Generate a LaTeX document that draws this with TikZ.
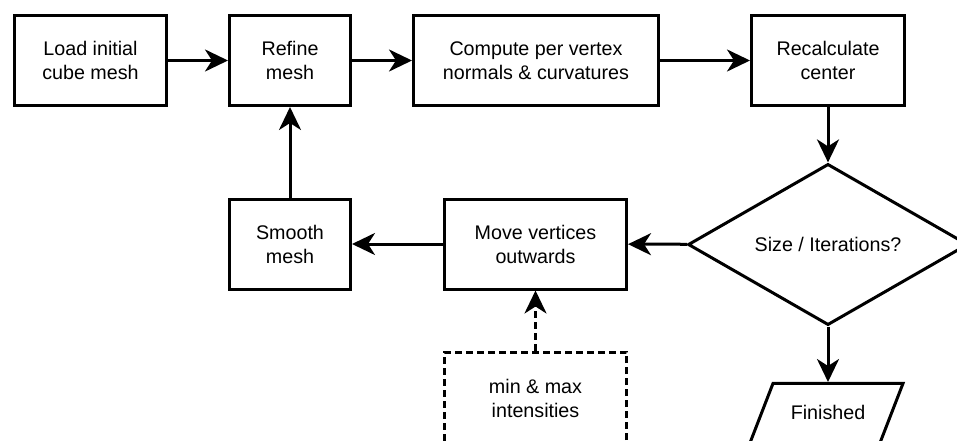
\documentclass[tikz,border=0pt]{standalone}
\usepackage{fontspec}
\setmainfont{Liberation Sans}
\usetikzlibrary{arrows.meta,shapes.geometric}
\begin{document}
\begin{tikzpicture}[x=1pt,y=-1pt,
  every node/.style={font=\fontsize{19.7}{24}\selectfont, align=center, inner sep=0pt},
  stepbox/.style={draw, line width=3pt, minimum height=90pt},
  inputbox/.style={stepbox, dash pattern=on 7pt off 4pt},
  decision/.style={draw, diamond, line width=3pt, minimum width=280pt, minimum height=155pt},
  flow/.style={line width=3pt, -{Stealth[length=23pt,width=22pt,inset=7pt]}},
  feed/.style={flow, dash pattern=on 7pt off 4pt},
]
\useasboundingbox (0,0) rectangle (957,441);
\clip (0,0) rectangle (957,441);

% top row
\node[stepbox, minimum width=152pt] (load)    at (90.5,60.5) {Load initial\\cube mesh};
\node[stepbox, minimum width=121pt] (refine)  at (290,60.5)  {Refine\\mesh};
\node[stepbox, minimum width=245pt] (compute) at (536,60.5)  {Compute per vertex\\normals \& curvatures};
\node[stepbox, minimum width=153pt] (recalc)  at (828,60.5)  {Recalculate\\center};

% middle row
\node[stepbox, minimum width=121pt] (smooth) at (290,244)   {Smooth\\mesh};
\node[stepbox, minimum width=182pt] (move)   at (535.5,244) {Move vertices\\outwards};
\node[decision] (check) at (828,244.5) {Size / Iterations?};

% bottom row (runs past the lower edge)
\node[inputbox, minimum width=182pt, minimum height=93pt] (limits) at (535.5,398.5) {min \& max\\intensities};
\node (done) at (828,412) {Finished};
\draw[line width=3pt, line join=miter] (773,383.4) -- (903,383.4) -- (878,448) -- (748,448) -- cycle;
\coordinate (donetop) at (828,382);

% connectors
\draw[flow] (load) -- (refine);
\draw[flow] (refine) -- (compute);
\draw[flow] (compute) -- (recalc);
\draw[flow] (recalc) -- (check);
\draw[flow] (check) -- (move);
\draw[flow] (move) -- (smooth);
\draw[flow] (smooth) -- (refine);
\draw[flow] (check) -- (donetop);
\draw[feed] (limits) -- (move);
\end{tikzpicture}
\end{document}
